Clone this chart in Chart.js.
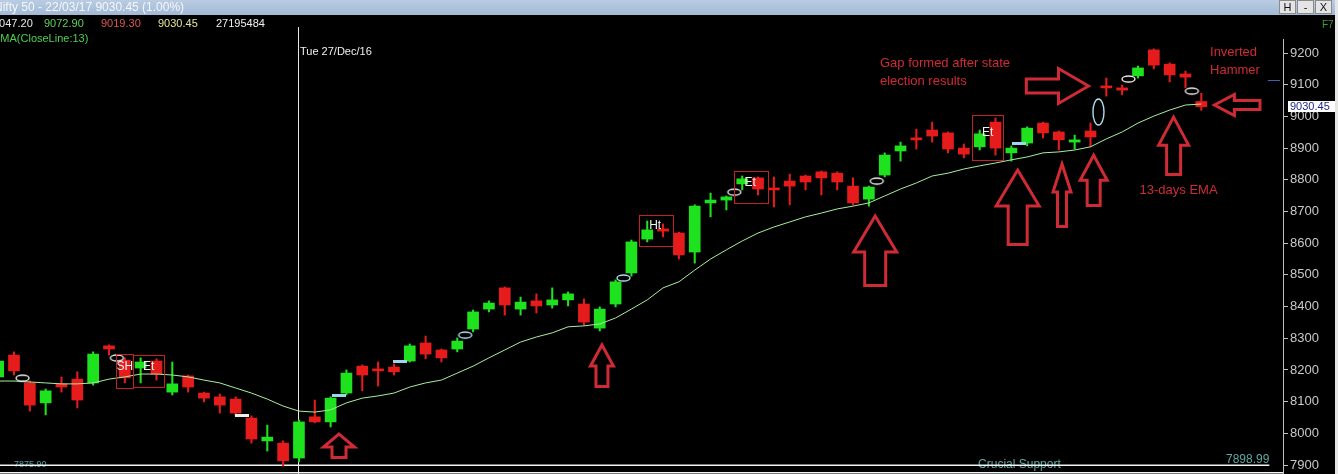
<!DOCTYPE html>
<html>
<head>
<meta charset="utf-8">
<script src="https://cdn.jsdelivr.net/npm/chart.js@4/dist/chart.umd.min.js"></script>
<style>
html,body{margin:0;padding:0;background:#000;overflow:hidden}
#wrap{width:1338px;height:474px;position:relative}
</style>
</head>
<body>
<div id="wrap"><canvas id="c"></canvas></div>
<script>
// ---------- DATA ----------
const firstSession = -1; // first (partially visible) candle
const openPrices  = [8178,8247,8159,8096,8156,8171,8159,8276,8231,8206,8228,8130,8181,8127,8115,8108,8048,7976,7969,7922,8052,8036,8127,8212,8203,8209,8228,8285,8263,8266,8329,8392,8459,8392,8418,8405,8421,8408,8332,8408,8506,8613,8645,8632,8572,8727,8736,8787,8806,8774,8796,8812,8825,8821,8780,8739,8815,8891,8932,8957,8948,8900,8904,8982,8885,8916,8979,8951,8919,8954,9096,9090,9128,9210,9165,9134,9047.20];
const highPrices  = [8238,8257,8165,8140,8178,8194,8257,8279,8238,8238,8235,8225,8184,8130,8124,8115,8055,8026,7976,8042,8105,8115,8200,8216,8225,8219,8282,8307,8266,8301,8389,8418,8462,8430,8440,8459,8446,8424,8399,8484,8610,8670,8661,8635,8721,8758,8749,8812,8809,8809,8818,8815,8828,8825,8806,8780,8885,8919,8960,8982,8951,8913,8957,8995,8907,8967,8982,8954,8941,8979,9121,9099,9159,9213,9169,9143,9072.90];
const lowPrices   = [8168,8184,8070,8058,8130,8080,8152,8247,8159,8159,8168,8121,8130,8099,8064,8055,7969,7944,7897,7910,8033,8020,8121,8134,8149,8184,8225,8235,8225,8257,8320,8383,8373,8373,8380,8395,8402,8342,8323,8399,8496,8604,8620,8550,8537,8683,8705,8768,8752,8714,8721,8768,8752,8768,8721,8717,8809,8859,8897,8919,8885,8869,8894,8878,8859,8907,8932,8894,8897,8904,9064,9068,9121,9150,9109,9090,9019.30];
const closePrices = [8228,8197,8089,8134,8146,8105,8250,8266,8175,8225,8187,8156,8146,8111,8089,8064,7982,7988,7913,8036,8036,8111,8190,8184,8197,8194,8276,8250,8238,8291,8383,8411,8405,8414,8402,8421,8440,8351,8392,8478,8604,8642,8638,8563,8717,8736,8746,8803,8771,8768,8780,8793,8806,8793,8727,8777,8878,8907,8926,8938,8897,8881,8945,8900,8900,8963,8948,8926,8926,8935,9090,9083,9153,9162,9131,9124,9030.45];
const ema13       = [8165,8165,8162,8159,8156,8156,8159,8171,8178,8187,8187,8184,8178,8168,8159,8143,8127,8108,8086,8070,8067,8074,8096,8111,8118,8127,8146,8159,8168,8190,8212,8238,8263,8288,8304,8317,8336,8339,8345,8364,8392,8421,8459,8478,8515,8550,8579,8607,8632,8651,8667,8683,8695,8708,8717,8727,8749,8771,8790,8812,8821,8834,8844,8853,8863,8872,8885,8888,8894,8904,8929,8951,8979,9001,9020,9036,9039];
const yTickValues = [7900,7950,8000,8050,8100,8150,8200,8250,8300,8350,8400,8450,8500,8550,8600,8650,8700,8750,8800,8850,8900,8950,9000,9050,9100,9150,9200];
const supportLevels = [7898.99, 7875.90];
const lastClose = 9030.45;
const prevRefLevel = 9115;
// chart-software markers (session position, price, kind)
const markerX    = [0.54, 6.5, 14.4, 20.5, 24.4, 28.5, 38.5, 45.5, 54.5, 63.5, 68.5, 70.4, 74.4];
const markerY    = [8174, 8238, 8055, 8118, 8228, 8310, 8490, 8761, 8796, 8913, 9014, 9118, 9080];
const markerKind = ['ringW','ringW','barW','barC','barC','ringC','ringC','ringW','ringW','barC','tall','ringW','ringW'];
// ---------- END DATA ----------

const UP = '#1fe21f', DOWN = '#e61c1c';
const ANN = '#cf2b36';
const xs = openPrices.map((_, i) => firstSession + i);
const isUp = i => closePrices[i] >= openPrices[i];

// annotation layout (positions in session/price coordinates)
const patternBoxes = [
  {from:6.44, to:7.52, top:8250, bottom:8143},
  {from:7.52, to:9.48, top:8247, bottom:8146},
  {from:39.5, to:41.6, top:8689, bottom:8591},
  {from:45.5, to:47.6, top:8828, bottom:8727},
  {from:60.5, to:62.5, top:9004, bottom:8862}
];
const patternLabels = [['SH',7.0,8209],['Et',8.5,8209],['Ht',40.5,8654],['Et',46.5,8790],['Et',61.5,8948]];
const arrows = [
  {dir:'up', x:20.53, tip:8004, base:7919, headW:34, headH:15, shaftW:17},
  {dir:'up', x:37.14, tip:8285, base:8143, headW:26, headH:23, shaftW:15},
  {dir:'up', x:54.4,  tip:8692, base:8462, headW:46, headH:38, shaftW:24},
  {dir:'up', x:63.4,  tip:8837, base:8591, headW:46, headH:38, shaftW:22},
  {dir:'up', x:66.2,  tip:8856, base:8648, headW:21, headH:30, shaftW:12},
  {dir:'up', x:68.2,  tip:8884, base:8714, headW:30, headH:27, shaftW:16},
  {dir:'up', x:73.25, tip:9004, base:8812, headW:33, headH:30, shaftW:17},
  {dir:'right', y:9096, tail:63.85, tip:68.0, headL:32, headH:38, shaftH:17},
  {dir:'left',  y:9036, tail:78.8, tip:75.7, headL:22, headH:24, shaftH:12}
];
const redNotes = [
  ['Gap formed after state', 54.7, 9168],
  ['election results', 54.7, 9112],
  ['Inverted', 75.55, 9203],
  ['Hammer', 75.55, 9146],
  ['13-days EMA', 71.1, 8768]
];

function ring(w, h, color) {
  const c = document.createElement('canvas');
  c.width = w + 4; c.height = h + 4;
  const g = c.getContext('2d');
  g.strokeStyle = color; g.lineWidth = 1.4;
  g.beginPath(); g.ellipse(c.width/2, c.height/2, w/2, h/2, 0, 0, Math.PI*2); g.stroke();
  return c;
}
function dash(w, h, color) {
  const c = document.createElement('canvas');
  c.width = w; c.height = h;
  const g = c.getContext('2d');
  g.fillStyle = color; g.fillRect(0, 0, w, h);
  return c;
}
const markerStyles = {
  ringW: ring(13, 6, '#ececec'),
  ringC: ring(13, 6, '#b4e2f2'),
  barW: dash(14, 3, '#eeeeee'),
  barC: dash(14, 3, '#9ad6ec'),
  tall: ring(11, 26, '#b4e2f2')
};

const F = 'Liberation Sans, Arial, sans-serif';

const overlay = {
  id: 'overlay',
  beforeDraw(chart) {
    const ctx = chart.ctx;
    ctx.save();
    ctx.fillStyle = '#000';
    ctx.fillRect(0, 0, chart.width, chart.height);
    ctx.restore();
  },
  beforeDatasetsDraw(chart) {
    const ctx = chart.ctx, X = v => chart.scales.x.getPixelForValue(v), Y = v => chart.scales.y.getPixelForValue(v);
    ctx.save();
    ctx.fillStyle = '#5ea9a3';
    ctx.font = '12px ' + F;
    ctx.textBaseline = 'middle';
    ctx.textAlign = 'left';
    ctx.fillText('Crucial Support', X(60.9), Y(7900));
    ctx.textAlign = 'right';
    ctx.fillText('7898.99', X(79.3), Y(7898.99) - 6);
    ctx.textAlign = 'left';
    ctx.font = '9px ' + F;
    ctx.fillStyle = '#4f9fa8';
    ctx.fillText('7875.90', X(0.0), Y(7875.9) - 8);
    // crosshair
    ctx.strokeStyle = '#e6e6e6'; ctx.lineWidth = 1;
    const cx = Math.round(X(18)) - 0.5;
    ctx.beginPath(); ctx.moveTo(cx, 27); ctx.lineTo(cx, chart.height); ctx.stroke();
    ctx.restore();
  },
  afterDraw(chart) {
    const ctx = chart.ctx, X = v => chart.scales.x.getPixelForValue(v), Y = v => chart.scales.y.getPixelForValue(v);
    ctx.save();
    // pattern boxes
    ctx.strokeStyle = '#c42222'; ctx.lineWidth = 1;
    patternBoxes.forEach(b => {
      const x0 = Math.round(X(b.from)) + 0.5, x1 = Math.round(X(b.to)) + 0.5;
      const y0 = Math.round(Y(b.top)) + 0.5, y1 = Math.round(Y(b.bottom)) + 0.5;
      ctx.strokeRect(x0, y0, x1 - x0, y1 - y0);
    });
    ctx.fillStyle = '#f2f2f2'; ctx.font = '12px ' + F; ctx.textAlign = 'center'; ctx.textBaseline = 'middle';
    patternLabels.forEach(([t, i, v]) => ctx.fillText(t, X(i), Y(v)));
    // arrows
    ctx.strokeStyle = ANN; ctx.lineWidth = 3; ctx.lineJoin = 'miter';
    arrows.forEach(a => {
      ctx.beginPath();
      if (a.dir === 'up') {
        const cx = X(a.x), t = Y(a.tip), b = Y(a.base), hw = a.headW/2 - 1.5, sw = a.shaftW/2 - 1.5;
        const ty = t + 2, hb = t + a.headH, by = b - 1.5;
        ctx.moveTo(cx, ty); ctx.lineTo(cx + hw, hb); ctx.lineTo(cx + sw, hb); ctx.lineTo(cx + sw, by);
        ctx.lineTo(cx - sw, by); ctx.lineTo(cx - sw, hb); ctx.lineTo(cx - hw, hb); ctx.closePath();
      } else {
        const cy = Y(a.y), tail = X(a.tail), tip = X(a.tip), s = a.dir === 'right' ? 1 : -1;
        const tx = tip - s*2, hb = tip - s*a.headL, tl = tail + s*1.5, hh = a.headH/2 - 1.5, sh = a.shaftH/2 - 1.5;
        ctx.moveTo(tx, cy); ctx.lineTo(hb, cy - hh); ctx.lineTo(hb, cy - sh); ctx.lineTo(tl, cy - sh);
        ctx.lineTo(tl, cy + sh); ctx.lineTo(hb, cy + sh); ctx.lineTo(hb, cy + hh); ctx.closePath();
      }
      ctx.stroke();
    });
    // red notes
    ctx.fillStyle = ANN; ctx.font = '13px ' + F; ctx.textAlign = 'left'; ctx.textBaseline = 'middle';
    redNotes.forEach(([t, i, v]) => ctx.fillText(t, X(i), Y(v)));
    // previous reference dash
    ctx.strokeStyle = '#3c64b4'; ctx.lineWidth = 1;
    const ry = Math.round(Y(prevRefLevel)) + 0.5;
    ctx.beginPath(); ctx.moveTo(X(79.2), ry); ctx.lineTo(X(79.97), ry); ctx.stroke();
    // last price box
    const py = Y(lastClose);
    ctx.fillStyle = '#ffffff';
    ctx.fillRect(1288, Math.round(py - 5.5), 47, 11);
    ctx.fillStyle = '#1c2a8c'; ctx.font = '11px ' + F; ctx.textAlign = 'left'; ctx.textBaseline = 'middle';
    ctx.fillText('9030.45', 1290, py + 0.5);
    // header / window chrome
    const grad = ctx.createLinearGradient(0, 0, 0, 15);
    grad.addColorStop(0, '#b9cce2'); grad.addColorStop(1, '#a2b9d5');
    ctx.fillStyle = grad; ctx.fillRect(0, 0, chart.width, 15);
    ctx.fillStyle = '#f4f7fb'; ctx.font = '12px ' + F; ctx.textBaseline = 'middle';
    ctx.fillText('Nifty 50 - 22/03/17 9030.45 (1.00%)', -6, 7.5);
    [['H',1279],['-',1297],['X',1315]].forEach(([t, x]) => {
      ctx.fillStyle = '#e4e4e4'; ctx.fillRect(x, 0, 17, 14);
      ctx.strokeStyle = '#8a8a8a'; ctx.strokeRect(x + 0.5, 0.5, 16, 13);
      ctx.fillStyle = '#111'; ctx.font = '11px ' + F; ctx.textAlign = 'center';
      ctx.fillText(t, x + 8.5, 7.5);
    });
    ctx.fillStyle = '#e6e6e6'; ctx.fillRect(1335, 0, 3, chart.height);
    ctx.textAlign = 'left'; ctx.font = '11px ' + F;
    const info = [['9047.20', -7, '#e6e6e6'], ['9072.90', 44, '#5fd35f'], ['9019.30', 101, '#e05656'], ['9030.45', 158, '#e4e49a'], ['27195484', 216, '#eeeeee']];
    info.forEach(([t, x, c]) => { ctx.fillStyle = c; ctx.fillText(t, x, 24); });
    ctx.fillStyle = '#4fcf4f'; ctx.fillText('EMA(CloseLine:13)', -7, 39);
    ctx.fillStyle = '#3a9e3a'; ctx.font = '10px ' + F; ctx.fillText('F7', 1322, 25);
    ctx.fillStyle = '#f0f0f0'; ctx.font = '11px ' + F; ctx.fillText('Tue 27/Dec/16', 300, 52);
    ctx.restore();
  }
};

new Chart(document.getElementById('c'), {
  type: 'bar',
  data: {
    datasets: [
      {
        type: 'line', label: 'EMA13',
        data: xs.map((x, i) => ({x, y: ema13[i]})),
        borderColor: '#a9ee9c', borderWidth: 1, pointRadius: 0, tension: 0, order: 0
      },
      {
        type: 'scatter', label: 'markers',
        data: markerX.map((x, i) => ({x, y: markerY[i]})),
        pointStyle: ctx => markerStyles[markerKind[ctx.dataIndex]],
        pointRadius: 5, order: -1
      },
      {
        type: 'line', label: 'support1',
        data: [{x: -1.5, y: supportLevels[0]}, {x: 79.3, y: supportLevels[0]}],
        borderColor: '#f2f2f2', borderWidth: 1.5, pointRadius: 0, order: 3
      },
      {
        type: 'line', label: 'support2',
        data: [{x: -1.5, y: supportLevels[1]}, {x: 81, y: supportLevels[1]}],
        borderColor: '#f2f2f2', borderWidth: 1.5, pointRadius: 0, order: 3
      },
      {
        label: 'bodies',
        data: xs.map((x, i) => ({x, y: [openPrices[i], closePrices[i]]})),
        backgroundColor: ctx => isUp(ctx.dataIndex) ? UP : DOWN,
        borderWidth: 0, barThickness: 11, minBarLength: 2, grouped: false, order: 1
      },
      {
        label: 'wicks',
        data: xs.map((x, i) => ({x, y: [lowPrices[i], highPrices[i]]})),
        backgroundColor: ctx => isUp(ctx.dataIndex) ? UP : DOWN,
        borderWidth: 0, barThickness: 1.4, grouped: false, order: 2
      }
    ]
  },
  options: {
    responsive: true, maintainAspectRatio: false, devicePixelRatio: 1,
    animation: false, events: [],
    layout: {autoPadding: false, padding: {top: 39, left: 0, right: 0, bottom: 0}},
    plugins: {legend: {display: false}, tooltip: {enabled: false}},
    scales: {
      x: {type: 'linear', min: -0.884, max: 80.16, offset: false, display: false},
      y: {
        type: 'linear', position: 'right', min: 7871.6, max: 9244.3,
        afterBuildTicks: s => { s.ticks = yTickValues.map(v => ({value: v})); },
        afterFit: s => { s.width = 55; s.paddingTop = 0; s.paddingBottom = 0; },
        ticks: {color: '#c9c9c9', font: {family: F, size: 13}, padding: 2, callback: v => String(v)},
        grid: {drawOnChartArea: false, color: '#bdbdbd', tickLength: 5},
        border: {color: '#bdbdbd'}
      }
    }
  },
  plugins: [overlay]
});
</script>
</body>
</html>
